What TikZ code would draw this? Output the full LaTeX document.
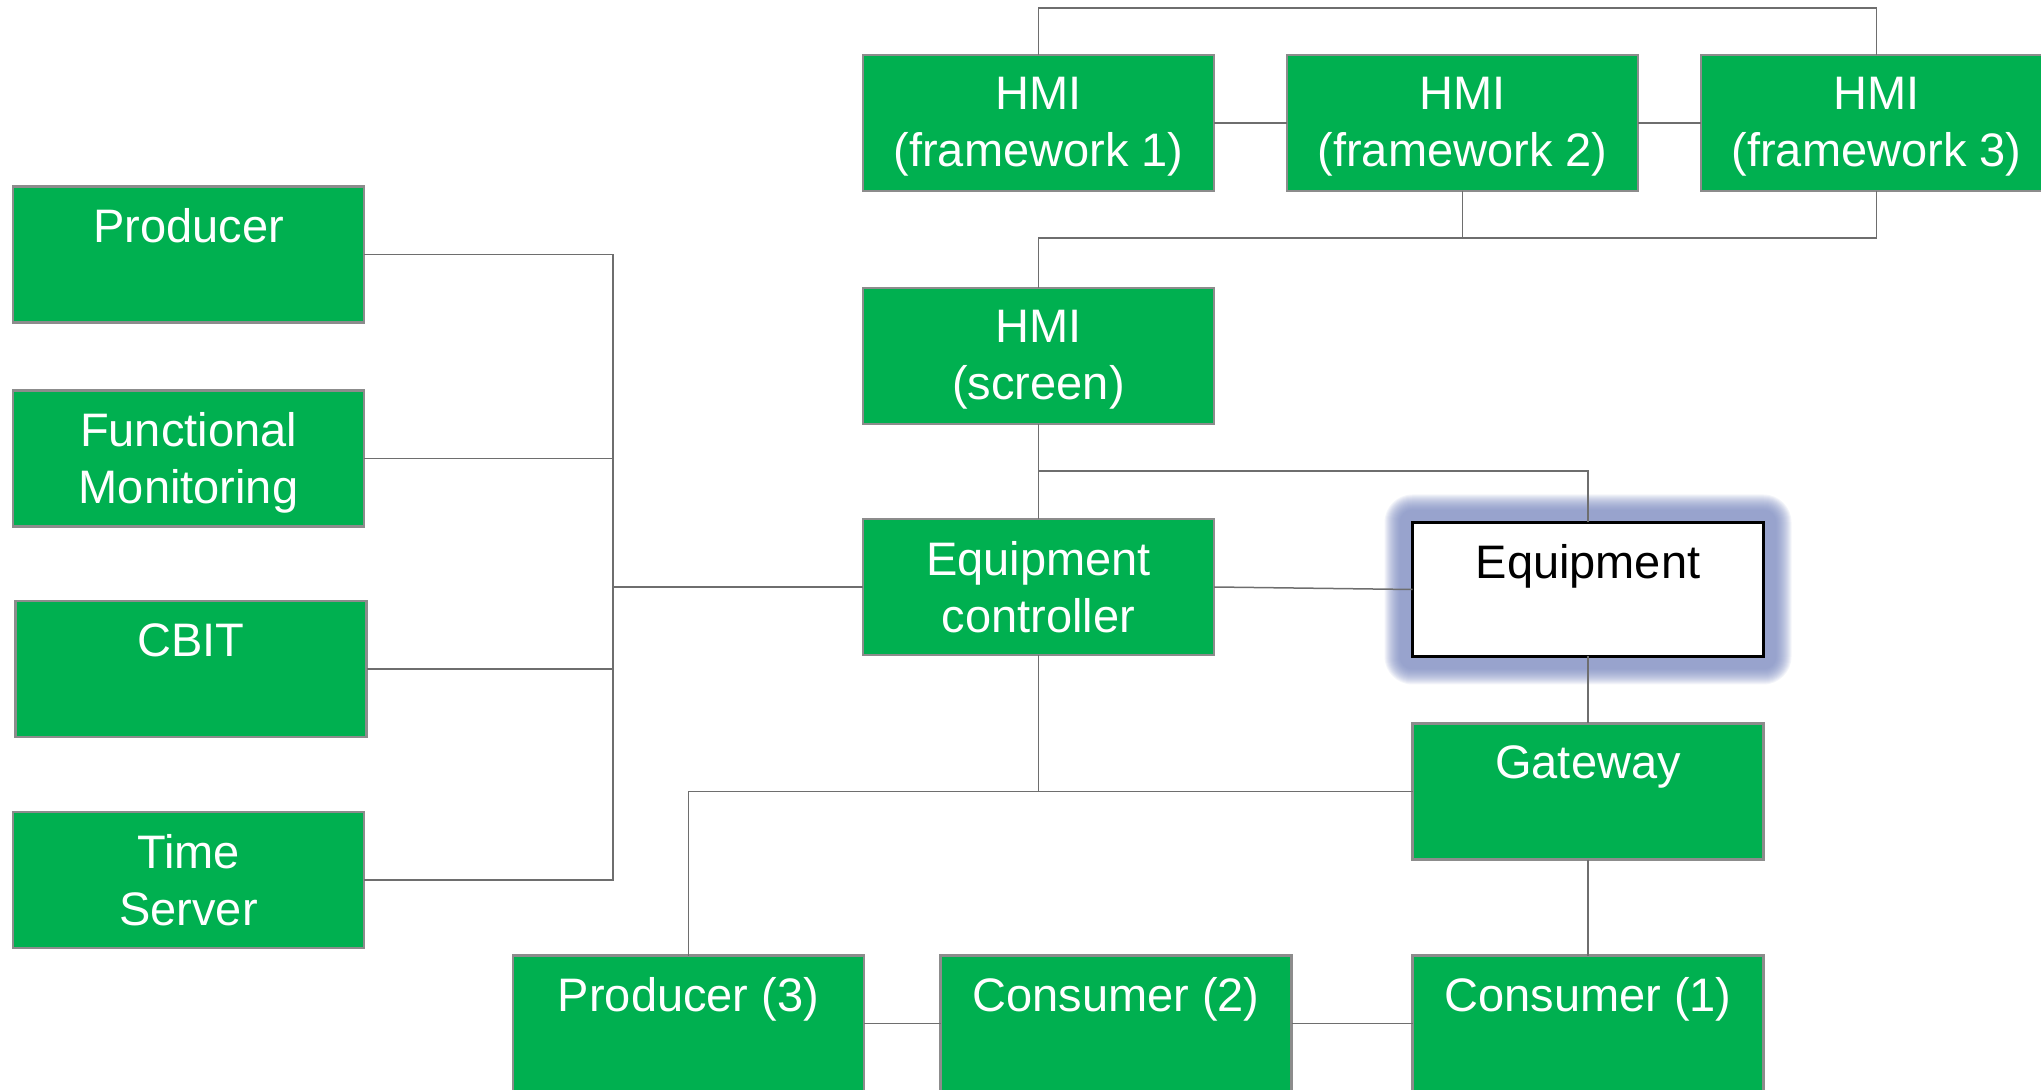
\documentclass[tikz,border=0pt]{standalone}
\usepackage{fontspec}
\setmainfont{Liberation Sans}
\usetikzlibrary{backgrounds}
\definecolor{boxgreen}{HTML}{00B050}
\definecolor{boxedge}{RGB}{140,140,140}
\definecolor{wire}{RGB}{110,110,110}
\definecolor{glowblue}{RGB}{120,135,190}
\begin{document}
\begin{tikzpicture}[x=0.5pt,y=-0.5pt,
  box/.style={rectangle, fill=boxgreen, draw=boxedge, line width=1.2pt,
    minimum width=175.5pt, minimum height=68pt, inner sep=0pt, outer sep=0pt},
  plainbox/.style={rectangle, fill=white, draw=black, line width=1.5pt,
    minimum width=175.5pt, minimum height=67pt, inner sep=0pt, outer sep=0pt},
  lbl/.style={anchor=north, inner sep=0pt, align=center, text=white,
    font=\fontsize{23.5}{28.5}\selectfont},
  wirel/.style={draw=wire, line width=0.75pt},
]
\useasboundingbox (0,0) rectangle (2041,1090);

% HMI frameworks
\node[box] (fw1) at (1038.5,123) {};
\node[box] (fw2) at (1462.5,123) {};
\node[box] (fw3) at (1876.5,123) {};
% left column
\node[box] (prod) at (188.5,254.5) {};
\node[box] (fm)   at (188.5,458.5) {};
\node[box] (cbit) at (191,669) {};
\node[box] (ts)   at (188.5,880) {};
% centre column
\node[box] (hmis) at (1038.5,356) {};
\node[box] (ctrl) at (1038.5,587) {};
% equipment side
\node[plainbox] (equip) at (1588,589.5) {};
\node[box] (gw) at (1588,791.5) {};
% bottom row
\node[box] (p3) at (688.5,1023.5) {};
\node[box] (c2) at (1116,1023.5) {};
\node[box] (c1) at (1588,1023.5) {};

% soft halo behind the equipment box: stacked translucent rings
\begin{scope}[on background layer]
  \foreach \d in {6.5,7,...,14}{
    \fill[glowblue, opacity=0.085, rounded corners=\d pt]
      ([xshift=-\d pt, yshift=-\d pt]equip.south west) rectangle
      ([xshift=\d pt, yshift=\d pt]equip.north east);
  }
\end{scope}

% labels
\node[lbl] (tfw1) at ([yshift=-11pt]fw1.north) {HMI\\(framework 1)};
\node[lbl] (tfw2) at ([yshift=-11pt]fw2.north) {HMI\\(framework 2)};
\node[lbl] (tfw3) at ([yshift=-11pt]fw3.north) {HMI\\(framework 3)};
\node[lbl] (tprod) at ([yshift=-11pt]prod.north) {Producer};
\node[lbl] (tfm) at ([yshift=-11pt]fm.north) {Functional\\Monitoring};
\node[lbl] (tcbit) at ([yshift=-11pt]cbit.north) {CBIT};
\node[lbl] (tts) at ([yshift=-11pt]ts.north) {Time\\Server};
\node[lbl] (thmis) at ([yshift=-11pt]hmis.north) {HMI\\(screen)};
\node[lbl] (tctrl) at ([yshift=-11pt]ctrl.north) {Equipment\\controller};
\node[lbl, text=black] (tequip) at ([yshift=-11pt]equip.north) {Equipment};
\node[lbl] (tgw) at ([yshift=-11pt]gw.north) {Gateway};
\node[lbl] (tp3) at ([yshift=-11pt]p3.north) {Producer (3)};
\node[lbl] (tc2) at ([yshift=-11pt]c2.north) {Consumer (2)};
\node[lbl] (tc1) at ([yshift=-11pt]c1.north) {Consumer (1)};

% junction points
\coordinate (topbus) at (1038.5,8);
\coordinate (hbus) at (1038.5,238);
\coordinate (ebus) at (1038.5,471);
\coordinate (lbus) at (613,587);
\coordinate (gbus) at (1038.5,791.5);

% HMI connections
\draw[wirel] (fw1.north) -- (topbus) -| (fw3.north);
\draw[wirel] (fw1.east) -- (fw2.west);
\draw[wirel] (fw2.east) -- (fw3.west);
\draw[wirel] (fw3.south) |- (hbus) -- (hmis.north);
\draw[wirel] (fw2.south) -- (fw2.south |- hbus);
\draw[wirel] (hmis.south) -- (ctrl.north);
\draw[wirel] (ebus) -| (equip.north);

% left bus
\draw[wirel] (prod.east) -| (lbus);
\draw[wirel] (ts.east) -| (lbus);
\draw[wirel] (fm.east) -- (fm.east -| lbus);
\draw[wirel] (cbit.east) -- (cbit.east -| lbus);
\draw[wirel] (ctrl.west) -- (lbus);

% equipment side
\draw[wirel] (ctrl.east) -- (equip.west);
\draw[wirel] (equip.south) -- (gw.north);
\draw[wirel] (ctrl.south) -- (gbus);
\draw[wirel] (gw.west) -- (gbus) -| (p3.north);
\draw[wirel] (gw.south) -- (c1.north);

% bottom row
\draw[wirel] (p3.east) -- (c2.west);
\draw[wirel] (c2.east) -- (c1.west);
\end{tikzpicture}
\end{document}
